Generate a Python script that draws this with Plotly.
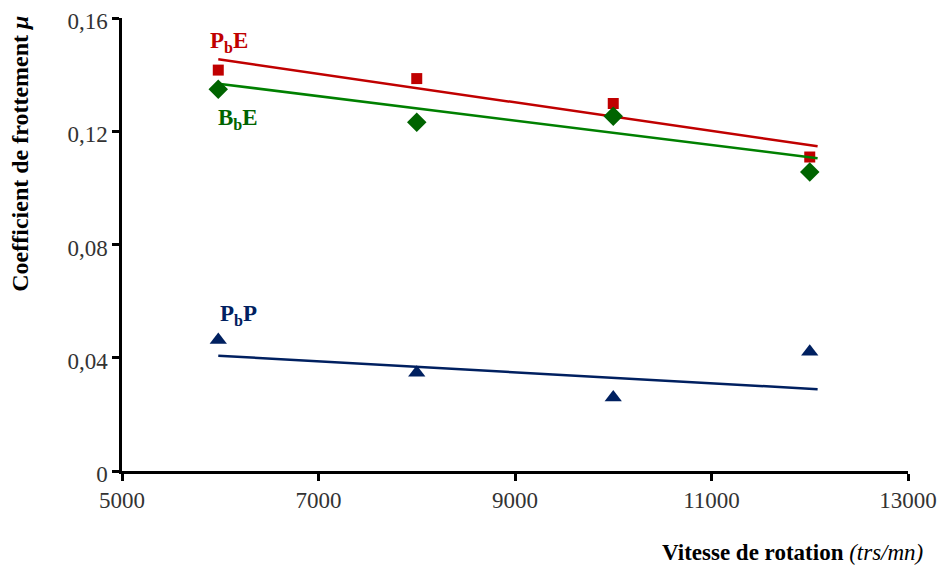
import plotly.graph_objects as go

# rotation speed (trs/mn)
vitesse = [5980, 8000, 10000, 12000]

# friction coefficient per pairing
mu_pbe = [0.1416, 0.1386, 0.1298, 0.1109]
mu_bbe = [0.1348, 0.1232, 0.1253, 0.1056]
mu_pbp = [0.0463, 0.0347, 0.0260, 0.0421]

# linear trendlines as drawn in the source chart (start / end)
trend_x = [5980, 12080]
trend_pbe = [0.1454, 0.1147]
trend_bbe = [0.1368, 0.1105]
trend_pbp = [0.0407, 0.0289]

x_ticks = [5000, 7000, 9000, 11000, 13000]
x_tick_labels = ["5000", "7000", "9000", "11000", "13000"]
y_ticks = [0, 0.04, 0.08, 0.12, 0.16]
y_tick_labels = ["0", "0,04", "0,08", "0,12", "0,16"]

FONT = "Liberation Serif, Times New Roman, serif"

series = [
    ("P<sub>b</sub>E", mu_pbe, trend_pbe, "#C00000", "#C00000", "square", 11, (6085, 0.1515)),
    ("B<sub>b</sub>E", mu_bbe, trend_bbe, "#008000", "#006400", "diamond", 15, (6180, 0.1245)),
    ("P<sub>b</sub>P", mu_pbp, trend_pbp, "#002060", "#002060", "triangle-up", 15, (6190, 0.0552)),
]

fig = go.Figure()

for name, ys, trend, line_col, mk_col, symbol, size, (lx, ly) in series:
    fig.add_trace(go.Scatter(
        x=trend_x, y=trend, mode="lines",
        line=dict(color=line_col, width=2.5), showlegend=False, hoverinfo="skip",
    ))
    fig.add_trace(go.Scatter(
        x=vitesse, y=ys, mode="markers", name=name,
        marker=dict(symbol=symbol, size=size, color=mk_col, line=dict(width=0)),
        showlegend=False,
    ))
    fig.add_annotation(
        x=lx, y=ly, text=f"<b>{name}</b>", showarrow=False,
        font=dict(family=FONT, size=23, color=mk_col),
    )

fig.add_annotation(
    xref="paper", yref="paper", x=-0.13, y=0.70, xanchor="center", yanchor="middle",
    textangle=-90, text="<b>Coefficient de frottement <i>μ</i></b>", showarrow=False,
    font=dict(family=FONT, size=24, color="black"),
)
fig.add_annotation(
    xref="paper", yref="paper", x=1.0216, y=-0.18, xanchor="right", yanchor="middle",
    text="<b>Vitesse de rotation</b> <i>(trs/mn)</i>", showarrow=False,
    font=dict(family=FONT, size=23, color="black"),
)

axis_style = dict(
    showgrid=False, zeroline=False, showline=True, linecolor="black", linewidth=2.5,
    ticks="outside", ticklen=7, tickwidth=2.5, tickcolor="black",
    tickfont=dict(family=FONT, size=23, color="#333"), automargin=False,
    ticklabeloverflow="allow",
)
fig.update_xaxes(range=[5000, 13000], tickvals=x_ticks, ticktext=x_tick_labels, **axis_style)
fig.update_yaxes(range=[0, 0.16], tickvals=y_ticks, ticktext=y_tick_labels,
                 ticklabelshift=3, **axis_style)

# page body adds an 8px offset, so the figure is sized to fit the window
fig.update_layout(
    width=939, height=564,
    margin=dict(l=114, r=39, t=10, b=101),
    plot_bgcolor="white", paper_bgcolor="white",
)

fig.write_html("out.html")
